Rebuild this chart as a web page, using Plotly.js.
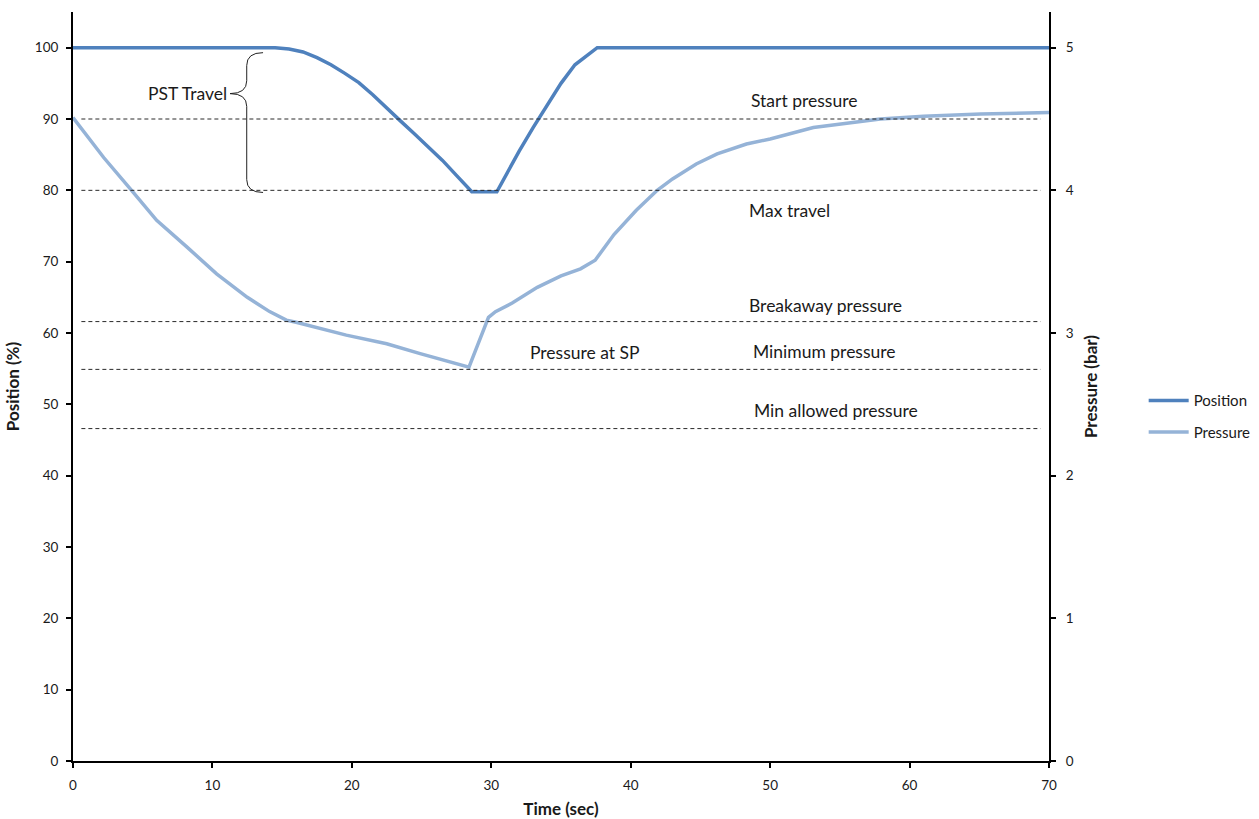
<!DOCTYPE html>
<html>
<head>
<meta charset="utf-8">
<script src="https://cdn.plot.ly/plotly-3.0.1.min.js"></script>
<style>
  html, body { margin: 0; padding: 0; background: #fff; }
  #chart { width: 1259px; height: 819px; }
</style>
</head>
<body>
<div id="chart"></div>
<script>
// Valve position during the partial stroke test (%)
const positionTime = [0, 14.5, 15.5, 16.5, 17.5, 18.5, 19.5, 20.5, 21.5, 22.5, 23.5, 24.5, 25.5, 26.5, 27.5, 28.6, 30.4, 31, 32, 33, 34, 35, 36, 37.1, 37.6, 70];
const positionPct  = [100, 100, 99.8, 99.4, 98.6, 97.6, 96.4, 95.1, 93.4, 91.5, 89.7, 87.9, 86.1, 84.2, 82.1, 79.8, 79.8, 82, 85.5, 88.8, 92, 95, 97.6, 99.3, 100, 100];

// Actuator pressure (bar)
const pressureTime = [0, 2.2, 4.2, 6.0, 8.2, 10.3, 12.5, 14.1, 15.3, 16.0, 19.6, 22.5, 24.9, 28.4, 29.8, 30.3, 31.5, 33.3, 35, 36.4, 37.45, 38.8, 40.4, 41.9, 43, 44.7, 46.2, 48.3, 50, 53.1, 55.5, 57.9, 61, 65.1, 70];
const pressureBar  = [4.51, 4.23, 4.00, 3.79, 3.60, 3.415, 3.25, 3.15, 3.09, 3.075, 2.985, 2.925, 2.855, 2.76, 3.11, 3.15, 3.21, 3.32, 3.40, 3.45, 3.51, 3.69, 3.86, 4.00, 4.08, 4.185, 4.255, 4.325, 4.36, 4.44, 4.47, 4.50, 4.52, 4.535, 4.545];

// Reference levels
const startPressure = 4.5;      // bar
const maxTravel = 80;           // %
const fullOpen = 100;           // %
const breakawayPressure = 3.08; // bar
const minimumPressure = 2.745;  // bar
const minAllowedPressure = 2.33;// bar
const pressureAtSPTime = 28.4;  // sec

const xTicks = [0, 10, 20, 30, 40, 50, 60, 70];
const yTicks = [0, 10, 20, 30, 40, 50, 60, 70, 80, 90, 100];
const y2Ticks = [0, 1, 2, 3, 4, 5];

const FONT = 'Lato, "Open Sans", sans-serif';
const INK = '#1a1a1a';

const traces = [
  {
    x: positionTime, y: positionPct, name: 'Position', legendgroup: 'pos',
    type: 'scatter', mode: 'lines', yaxis: 'y',
    line: { color: '#4f81bd', width: 3.5 }
  },
  {
    x: pressureTime, y: pressureBar, name: 'Pressure', legendgroup: 'pres',
    type: 'scatter', mode: 'lines', yaxis: 'y2',
    line: { color: '#95b3d7', width: 3.5 }
  }
];

// dashed reference lines
function hLine(yVal, yref) {
  return {
    type: 'line', xref: 'x', yref: yref,
    x0: 0.6, x1: 69.4, y0: yVal, y1: yVal,
    line: { color: '#2a2a2a', width: 1, dash: '4px,3px' }
  };
}

// curly brace spanning the PST travel (from full open down to max travel)
const bx = 12.46, bEnd = 13.63, bTip = 11.26;
const bTop = fullOpen - 0.7, bBot = maxTravel - 0.3, bMid = 93.56;
const bracePath =
  `M ${bEnd},${bTop} Q ${bx},${bTop} ${bx},${bTop - 1.8} ` +
  `L ${bx},${bMid + 1.8} Q ${bx},${bMid} ${bTip},${bMid} ` +
  `Q ${bx},${bMid} ${bx},${bMid - 1.8} ` +
  `L ${bx},${bBot + 1.8} Q ${bx},${bBot} ${bEnd},${bBot}`;

const shapes = [
  hLine(startPressure, 'y2'),
  hLine(maxTravel, 'y'),
  hLine(breakawayPressure, 'y2'),
  hLine(minimumPressure, 'y2'),
  hLine(minAllowedPressure, 'y2'),
  { type: 'path', xref: 'x', yref: 'y', path: bracePath, line: { color: '#222', width: 1 } }
];

function label(text, x, y, yref, yshift, xanchor) {
  return {
    text: text, x: x, y: y, xref: 'x', yref: yref,
    yshift: yshift, showarrow: false, xanchor: xanchor || 'center',
    font: { family: FONT, size: 17.5, color: INK }
  };
}

const annotations = [
  label('Start pressure', 52.4, startPressure, 'y2', 19),
  label('Max travel', 51.4, maxTravel, 'y', -20),
  label('Breakaway pressure', 54.0, breakawayPressure, 'y2', 16),
  label('Minimum pressure', 53.9, minimumPressure, 'y2', 18),
  label('Min allowed pressure', 54.7, minAllowedPressure, 'y2', 18),
  label('Pressure at SP', pressureAtSPTime + 8.3, minimumPressure, 'y2', 17),
  label('PST Travel', bTip - 0.05, bMid, 'y', 0, 'right')
];

const axisCommon = {
  showline: true, linecolor: '#000', linewidth: 2,
  ticks: 'outside', ticklen: 5, tickwidth: 2, tickcolor: '#000',
  showgrid: false, zeroline: false,
  tickfont: { family: FONT, size: 13.5, color: INK }
};

const titleFont = { family: FONT, size: 17, color: INK };

const layout = {
  width: 1259, height: 819,
  paper_bgcolor: '#fff', plot_bgcolor: '#fff',
  margin: { l: 73, r: 210, t: 12, b: 58, autoexpand: false },
  font: { family: FONT, color: INK },
  xaxis: Object.assign({}, axisCommon, {
    range: [0, 70], tickvals: xTicks, ticklabelstandoff: 6,
    title: { text: '<b>Time (sec)</b>', font: titleFont, standoff: 13 }
  }),
  yaxis: Object.assign({}, axisCommon, {
    range: [0, 105], tickvals: yTicks, ticklabelstandoff: 5,
    title: { text: '<b>Position (%)</b>', font: titleFont, standoff: 11 }
  }),
  yaxis2: Object.assign({}, axisCommon, {
    range: [0, 5.25], tickvals: y2Ticks, overlaying: 'y', side: 'right', ticklabelstandoff: 7,
    title: { text: '<b>Pressure (bar)</b>', font: titleFont, standoff: 12 }
  }),
  showlegend: true,
  legend: {
    x: 1.097, y: 0.503, xanchor: 'left', yanchor: 'top',
    font: { family: FONT, size: 15, color: INK },
    bgcolor: 'rgba(0,0,0,0)', tracegroupgap: 9, itemwidth: 40
  },
  shapes: shapes,
  annotations: annotations
};

Plotly.newPlot('chart', traces, layout, { displayModeBar: false, staticPlot: true });
</script>
</body>
</html>
